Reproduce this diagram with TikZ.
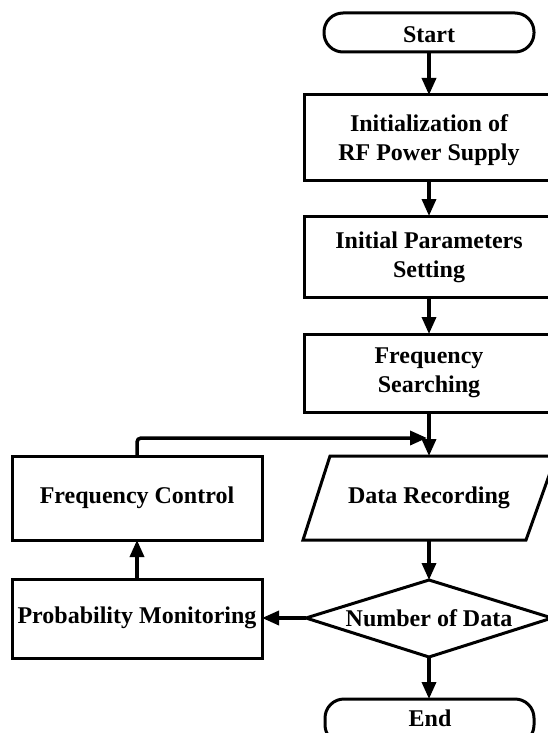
\documentclass[tikz,border=0pt]{standalone}
\usepackage{fontspec}
\setmainfont{Liberation Serif}
\usetikzlibrary{arrows.meta,shapes.geometric}
\begin{document}
\begin{tikzpicture}[x=1pt,y=-1pt,
  every node/.style={font=\bfseries\fontsize{24}{29}\selectfont, align=center, inner sep=0pt},
  boxline/.style={line width=3pt, line join=miter},
  flow/.style={line width=3.5pt, -{Triangle[length=17pt,width=14pt]}},
]
\useasboundingbox (0,0) rectangle (548,733);
\clip (0,0) rectangle (548,733);

% terminals and process boxes of the main column
\draw[boxline, rounded corners=19pt] (324,13) rectangle (534,52);
\node (start) at (429,35) {Start};

\draw[boxline] (304,95) rectangle (556,180);
\node (init) at (429,140) {Initialization of\\RF Power Supply};

\draw[boxline] (304,216) rectangle (556,297);
\node (param) at (429,257) {Initial Parameters\\Setting};

\draw[boxline] (304,334) rectangle (556,412);
\node (search) at (429,373) {Frequency\\Searching};

% data recording (input/output)
\draw[boxline] (330,456) -- (556,456) -- (526,540) -- (303,540) -- cycle;
\node (data) at (429,498) {Data Recording};

% decision
\draw[boxline] (429,580) -- (552,618) -- (429,657) -- (306,618) -- cycle;
\node (num) at (429,618) {Number of Data};

% end terminal
\draw[boxline, rounded corners=19pt] (325,699) rectangle (534,744);
\node (end) at (430,718.5) {End};

% feedback branch
\draw[boxline] (12,456) rectangle (262,540);
\node (ctrl) at (137,498) {Frequency Control};

\draw[boxline] (12,579) rectangle (262,658);
\node (prob) at (137,618) {Probability Monitoring};

% anchor points for connectors
\coordinate (startB) at (429,52);
\coordinate (initT) at (429,95);
\coordinate (initB) at (429,180);
\coordinate (paramT) at (429,216);
\coordinate (paramB) at (429,297);
\coordinate (searchT) at (429,334);
\coordinate (searchB) at (429,412);
\coordinate (dataT) at (429,456);
\coordinate (dataB) at (429,540);
\coordinate (numT) at (429,580);
\coordinate (numB) at (429,657);
\coordinate (numL) at (306,618);
\coordinate (endT) at (429,699);
\coordinate (probR) at (262,618);
\coordinate (probT) at (137,579);
\coordinate (ctrlB) at (137,540);
\coordinate (ctrlT) at (137,456);
\coordinate (join) at (427,438);

% connectors
\draw[flow] (startB) -- (initT);
\draw[flow] (initB) -- (paramT);
\draw[flow] (paramB) -- (searchT);
\draw[flow] (searchB) -- (dataT);
\draw[flow] (dataB) -- (numT);
\draw[flow] (numB) -- (endT);
\draw[flow] (numL) -- (probR);
\draw[flow] (probT) -- (ctrlB);
\draw[flow, rounded corners=4pt] (ctrlT) |- (join);
\end{tikzpicture}
\end{document}
